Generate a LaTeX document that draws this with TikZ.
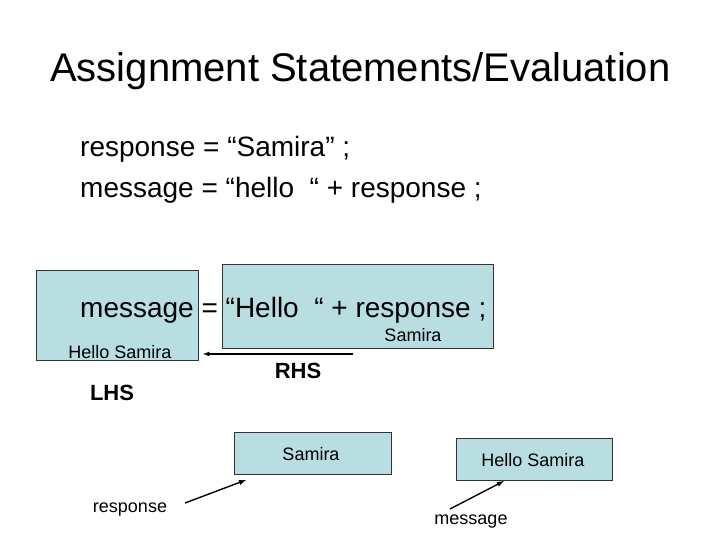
\documentclass[tikz,border=0pt]{standalone}
\usepackage{fontspec}
\setmainfont{Liberation Sans}
\usetikzlibrary{arrows}
\definecolor{cellblue}{RGB}{184,222,225}
\tikzset{cell/.style={draw=black!80,fill=cellblue,line width=0.8pt,inner sep=0pt},
	lbl/.style={inner sep=0pt,font=\fontsize{18}{20}\selectfont},
	big/.style={inner sep=0pt,anchor=base west,font=\fontsize{28}{32}\selectfont},
	side/.style={inner sep=0pt,font=\fontsize{22}{24}\selectfont\bfseries}}

\begin{document}
\begin{tikzpicture}[x=1pt,y=-1pt,>=latex]
			\useasboundingbox[fill=white] (0,0) rectangle (720,540);
			\node[inner sep=0pt,anchor=base west,font=\fontsize{40}{44}\selectfont] (title) at (50,82) {Assignment Statements/Evaluation};
			\node[big] (line1) at (80,157) {response = “Samira” ;};
			\node[big] (line2) at (80,197) {message = “hello\ \ “ + response ;};
			% left and right hand side
			\node[cell,minimum width=162pt,minimum height=90pt] (lhs) at (117,315) {};
			\node[cell,minimum width=271pt,minimum height=84pt] (rhs) at (357.5,306) {};
			\node[big] (stmt) at (80,317) {message = “Hello\ \ “ + response ;};
			\node[lbl] (lhsval) at (120,352) {Hello Samira};
			\node[lbl] (rhsval) at (413,335) {Samira};
			\coordinate (from) at (353,354);
			\coordinate (to) at (203,354);
			\draw[->,line width=1.2pt] (from) -- (to);
			\node[side] (rhslbl) at (298,371) {RHS};
			\node[side] (lhslbl) at (112,393) {LHS};
			% variables
			\node[cell,lbl,minimum width=157pt,minimum height=42pt] (resbox) at (312.5,453) {};
			\node[lbl] at (311,454) {Samira};
			\node[cell,lbl,minimum width=156pt,minimum height=42pt] (msgbox) at (534,459) {};
			\node[lbl] at (533,460) {Hello Samira};
			\node[lbl] (resp) at (130,510) {response};
			\node[lbl] (msg) at (471,522) {message};
			\coordinate (r1) at (185,503);
			\coordinate (r2) at (246,480);
			\coordinate (m1) at (450,509);
			\coordinate (m2) at (504,481);
			\draw[->,line width=1.4pt] (r1) -- (r2);
			\draw[->,line width=1.4pt] (m1) -- (m2);
\end{tikzpicture}
\end{document}
